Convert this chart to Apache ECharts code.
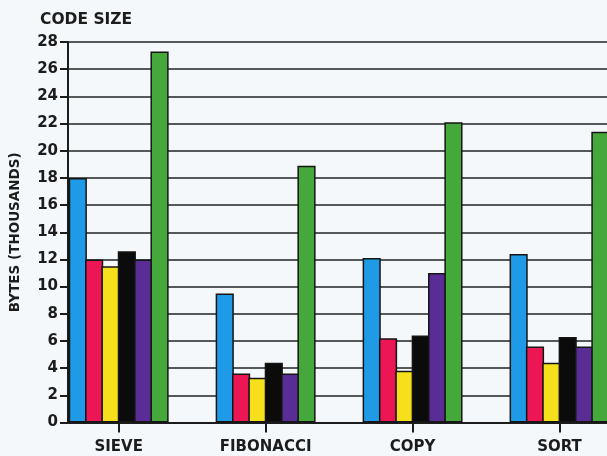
<!DOCTYPE html>
<html>
<head>
<meta charset="utf-8">
<script src="https://cdn.jsdelivr.net/npm/echarts@6/dist/echarts.min.js"></script>
<style>
html,body{margin:0;padding:0;background:#f4f8fa;overflow:hidden;}
#c{width:633px;height:456px;}
</style>
</head>
<body>
<div id="c"></div>
<script>
var categories = ['SIEVE', 'FIBONACCI', 'COPY', 'SORT'];
var seriesBlue   = [18.0, 9.5, 12.1, 12.4];
var seriesRed    = [12.0, 3.6, 6.2, 5.6];
var seriesYellow = [11.5, 3.3, 3.8, 4.4];
var seriesBlack  = [12.6, 4.4, 6.4, 6.3];
var seriesPurple = [12.0, 3.6, 11.0, 5.6];
var seriesGreen  = [27.3, 18.9, 22.1, 21.4];
var seriesNames  = ['Blue', 'Red', 'Yellow', 'Black', 'Purple', 'Green'];
var seriesColors = ['#1e9ae6', '#ec1654', '#f6e01c', '#0b0b0b', '#5a2c96', '#45a83a'];
var yTicks = {min: 0, max: 28, interval: 2};

var font = 'DejaVu Sans';
var ink = '#1c1c1c';
var allData = [seriesBlue, seriesRed, seriesYellow, seriesBlack, seriesPurple, seriesGreen];

var chart = echarts.init(document.getElementById('c'), null, {renderer: 'canvas'});
chart.setOption({
  backgroundColor: '#f4f8fa',
  animation: false,
  title: {
    text: 'CODE SIZE', left: 35, top: 7,
    textStyle: {fontFamily: font, fontWeight: 'bold', fontSize: 15.5, color: ink}
  },
  grid: [
    {left: 68, right: 0, top: 42, bottom: 33.5},
    {left: 45.2, right: 0, top: 42, bottom: 33.5}
  ],
  xAxis: [
    {type: 'value', gridIndex: 0, min: 0, max: 1,
     axisLine: {show: true, onZero: false, lineStyle: {color: ink, width: 2}},
     axisTick: {show: false}, axisLabel: {show: false}, splitLine: {show: false}},
    {type: 'category', gridIndex: 1, data: categories,
     axisLine: {show: false},
     axisTick: {show: true, alignWithLabel: true, length: 10, lineStyle: {color: ink, width: 2}},
     axisLabel: {margin: 17, fontFamily: font, fontWeight: 'bold', fontSize: 15, color: ink}}
  ],
  yAxis: [
    {type: 'value', gridIndex: 0, min: yTicks.min, max: yTicks.max, interval: yTicks.interval,
     name: 'BYTES (THOUSANDS)', nameLocation: 'middle', nameRotate: 90, nameGap: 46,
     nameTextStyle: {fontFamily: font, fontWeight: 'bold', fontSize: 13.5, color: ink},
     axisLine: {show: true, lineStyle: {color: ink, width: 2}},
     axisTick: {show: true, length: 8, lineStyle: {color: ink, width: 2}},
     axisLabel: {margin: 10, fontFamily: font, fontWeight: 'bold', fontSize: 15, color: ink},
     splitLine: {show: true, lineStyle: {color: '#222', width: 1.5}}},
    {type: 'value', gridIndex: 1, min: yTicks.min, max: yTicks.max, interval: yTicks.interval,
     show: false, splitLine: {show: false}}
  ],
  series: allData.map(function (d, i) {
    return {
      name: seriesNames[i], type: 'bar', xAxisIndex: 1, yAxisIndex: 1,
      data: d, barGap: '-10%', barCategoryGap: '32%',
      itemStyle: {color: seriesColors[i], borderColor: '#151515', borderWidth: 1.5}
    };
  })
});
</script>
</body>
</html>
